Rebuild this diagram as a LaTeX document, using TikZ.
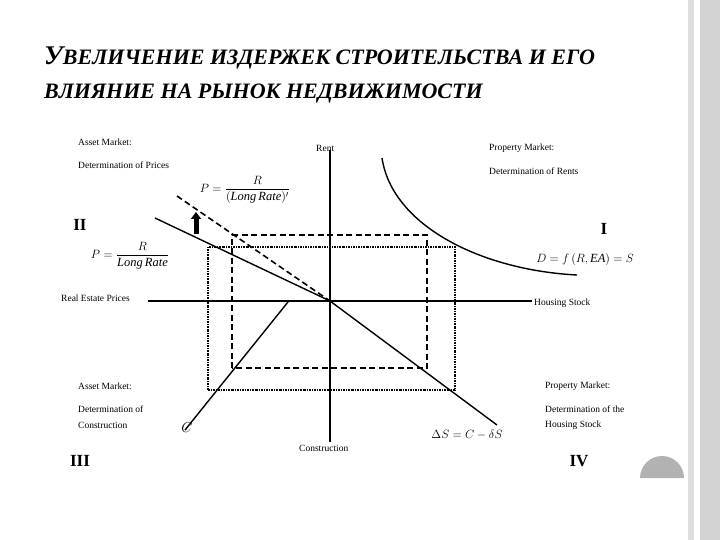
\documentclass[tikz,border=0pt]{standalone}
\usepackage{amsmath}
\usepackage{fontspec}
\setmainfont{Liberation Serif}
\usetikzlibrary{arrows.meta}
\begin{document}
\begin{tikzpicture}[x=1pt,y=-1pt,
  lbl/.style={font=\fontsize{9.5}{10}\selectfont,anchor=west,inner sep=0},
  roman/.style={font=\fontsize{17}{17}\selectfont\bfseries,inner sep=0},
  eq/.style={font=\fontsize{12.5}{13}\selectfont\itshape,inner sep=0},
  ttl/.style={font=\fontsize{22}{22}\selectfont\bfseries\itshape,anchor=west,inner sep=0},
  curve/.style={line width=1.4pt},
  dsh/.style={line width=1.6pt,dash pattern=on 6pt off 3.5pt},
  dtt/.style={line width=1.1pt,dash pattern=on 2pt off 1pt on 0.8pt off 1pt}]
\useasboundingbox (0,0) rectangle (720,540);
\fill[white] (0,0) rectangle (720,540);
\fill[gray!25] (688,0) rectangle (694,540);
\fill[gray!35] (700,0) rectangle (720,540);
\fill[gray!60] (640,478) arc (180:360:22) -- cycle;
\node[ttl] (t1) at (44,58) {{\fontsize{27}{27}\selectfont У}ВЕЛИЧЕНИЕ ИЗДЕРЖЕК СТРОИТЕЛЬСТВА И ЕГО};
\node[ttl] (t2) at (44,94) {ВЛИЯНИЕ НА РЫНОК НЕДВИЖИМОСТИ};
% axes
\coordinate (o) at (330,301);
\coordinate (vt) at (330,150); \coordinate (vb) at (330,442);
\coordinate (hl) at (148,301); \coordinate (hr) at (532,301);
% rectangles
\draw[dtt] (208,390) -- (208,247) -- (455,247) -- (455,390) -- cycle;
\draw[dsh] (232,368) -- (232,235) -- (427,235) -- (427,368) -- cycle;
\draw[line width=2.4pt] (hl) -- (hr);
\draw[line width=1.6pt] (vt) -- (vb);
% curves
\draw[curve] (382,158) .. controls (392,225) and (480,270) .. (577,275);
\coordinate (q2a) at (155,218); \coordinate (q2d) at (177,196);
\draw[curve] (q2a) -- (o) -- (497,425);
\draw[dsh] (q2d) -- (o);
\draw[curve] (185,430) -- (288,302);
\draw[-{Triangle[width=10pt,length=7pt]},line width=5pt] (196,234) -- (196,212);
% labels
\node[lbl] (am1) at (78,142) {Asset Market:};
\node[lbl] (am2) at (78,165) {Determination of Prices};
\node[lbl] (rent) at (316,148) {Rent};
\node[lbl] (pm1) at (489,148) {Property Market:};
\node[lbl] (pm2) at (489,171) {Determination of Rents};
\node[lbl] (res) at (61,298) {Real Estate Prices};
\node[lbl] (hs) at (534,303) {Housing Stock};
\node[lbl] (am3) at (78,386) {Asset Market:};
\node[lbl] (am4) at (78,409) {Determination of};
\node[lbl] (am5) at (78,425) {Construction};
\node[lbl] (con) at (299,448) {Construction};
\node[lbl] (pm3) at (545,386) {Property Market:};
\node[lbl] (pm4) at (545,409) {Determination of the};
\node[lbl] (pm5) at (545,425) {Housing Stock};
\node[roman] (r2) at (80,225) {II};
\node[roman] (r1) at (604,229) {I};
\node[roman] (r3) at (80,461) {III};
\node[roman] (r4) at (579,461) {IV};
\node[eq] (e1) at (245,190) {$P=\dfrac{R}{(\mathit{Long\,Rate})'}$};
\node[eq] (e2) at (130,256) {$P=\dfrac{R}{\mathit{Long\,Rate}}$};
\node[eq] (e3) at (585,259) {$D=f\,(R,\mathit{EA})=S$};
\node[eq,font=\fontsize{15}{15}\selectfont\itshape] (c) at (187,428) {$C$};
\node[eq] (e4) at (467,435) {$\Delta S=C-\delta S$};
\end{tikzpicture}
\end{document}
